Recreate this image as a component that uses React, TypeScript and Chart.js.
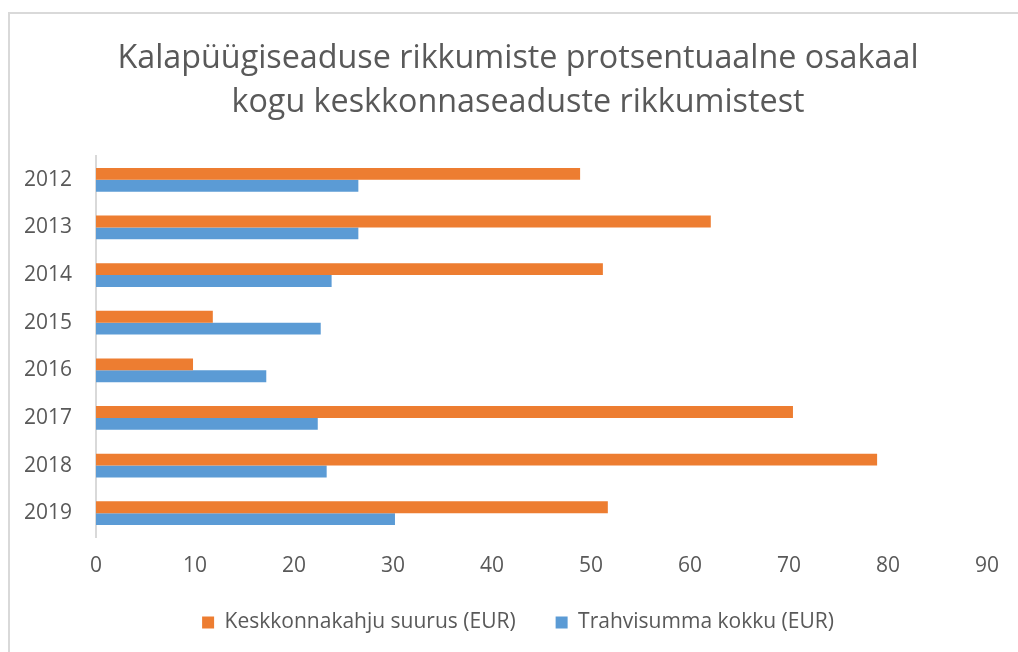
import React, { useEffect, useRef } from "react";
import { Chart, registerables } from "chart.js";

Chart.register(...registerables);

const categories = ["2012", "2013", "2014", "2015", "2016", "2017", "2018", "2019"];
const damageValues = [48.9, 62.1, 51.2, 11.8, 9.8, 70.4, 78.9, 51.7];
const fineValues = [26.5, 26.5, 23.8, 22.7, 17.2, 22.4, 23.3, 30.2];
const seriesNames = ["Keskkonnakahju suurus (EUR)", "Trahvisumma kokku (EUR)"];
const titleLines = ["Kalapüügiseaduse rikkumiste protsentuaalne osakaal", "kogu keskkonnaseaduste rikkumistest"];
const xMin = 0;
const xMax = 90;
const xStep = 10;

const FONT = "'Open Sans', 'Noto Sans', sans-serif";
const TEXT = "#595959";

export default function App() {
  const ref = useRef<HTMLCanvasElement | null>(null);

  useEffect(() => {
    if (!ref.current) return;
    const chart = new Chart(ref.current, {
      type: "bar",
      data: {
        labels: categories,
        datasets: [
          {
            label: seriesNames[0],
            data: damageValues,
            backgroundColor: "#ED7D31",
            borderWidth: 0,
            categoryPercentage: 0.5,
            barPercentage: 1,
          },
          {
            label: seriesNames[1],
            data: fineValues,
            backgroundColor: "#5B9BD5",
            borderWidth: 0,
            categoryPercentage: 0.5,
            barPercentage: 1,
          },
        ],
      },
      options: {
        indexAxis: "y",
        animation: false,
        responsive: false,
        maintainAspectRatio: false,
        layout: { padding: { left: 18, right: 0, top: 0, bottom: 9 } },
        plugins: {
          title: {
            display: true,
            text: titleLines,
            color: TEXT,
            font: { family: FONT, size: 32.3, weight: "normal", lineHeight: 1.362 },
            padding: { top: 37, bottom: 31 },
          },
          legend: {
            display: true,
            position: "bottom",
            labels: {
              color: TEXT,
              font: { family: FONT, size: 21 },
              boxWidth: 12,
              boxHeight: 12,
              padding: 40,
              useBorderRadius: false,
            },
          },
          tooltip: { enabled: false },
        },
        scales: {
          x: {
            type: "linear",
            min: xMin,
            max: xMax,
            grid: { display: false, drawTicks: false },
            border: { display: false },
            ticks: {
              stepSize: xStep,
              color: TEXT,
              font: { family: FONT, size: 21 },
              padding: 16,
            },
            afterFit: (s: any) => {
              s.height = 35;
            },
          },
          y: {
            grid: { display: false, drawTicks: false },
            border: { display: true, color: "#d9d9d9", width: 2 },
            ticks: {
              color: TEXT,
              font: { family: FONT, size: 21 },
              padding: 24,
            },
            afterFit: (s: any) => {
              s.width = 78;
            },
          },
          yRight: {
            type: "category",
            position: "right",
            display: true,
            grid: { display: false, drawTicks: false },
            border: { display: false },
            ticks: { display: false },
            afterFit: (s: any) => {
              s.width = 31;
            },
          },
        },
      },
    });
    return () => chart.destroy();
  }, []);

  return (
    <div style={{ position: "fixed", left: 0, top: 0, width: 1018, height: 652, overflow: "hidden", background: "#fff" }}>
      <div
        style={{
          position: "absolute",
          left: 8,
          top: 12,
          width: 1200,
          height: 800,
          borderTop: "2px solid #d9d9d9",
          borderLeft: "2px solid #d9d9d9",
        }}
      />
      <canvas ref={ref} width={1018} height={652} style={{ position: "absolute", left: 0, top: 0 }} />
    </div>
  );
}
